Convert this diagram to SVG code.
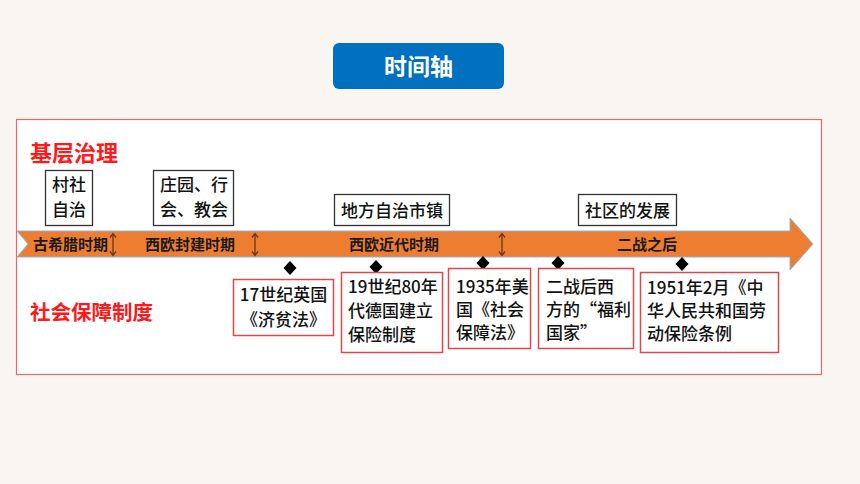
<svg xmlns="http://www.w3.org/2000/svg" width="860" height="484" viewBox="0 0 860 484">
<defs>
<style>
text{font-family:"Noto Sans CJK SC","Noto Sans",sans-serif;fill:#111}
.t{font-size:17px;font-weight:500}
.band{font-size:15px;font-weight:bold;fill:#1a1a1a}
.red{font-size:21px;font-weight:bold;fill:#FF1A1A}
.top{fill:#fff;stroke:#333;stroke-width:1.3}
.bot{fill:#fff;stroke:#E0474C;stroke-width:1.5}
.sep{stroke:#6B3A14;stroke-width:1.3;fill:none}
.dia{fill:#000}
</style>
</defs>
<rect x="0" y="0" width="860" height="484" fill="#F9F6F2"/>
<g id="title">
<rect x="333" y="43" width="171" height="46" rx="6" fill="#0070C0"/>
<text x="418.5" y="75" text-anchor="middle" style="font-size:23px;font-weight:bold;fill:#fff">时间轴</text>
</g>
<rect id="frame" x="16.5" y="119.5" width="805" height="255" fill="#fff" stroke="#F06464" stroke-width="1.2"/>
<text x="30" y="161" class="red" style="font-size:22px">基层治理</text>
<text x="30" y="320" class="red" style="font-size:20.5px">社会保障制度</text>
<g id="connectors">
<path id="timeline" d="M17,231 L790,231 L790,218 L813,244 L790,270 L790,257 L17,257 L28,244 Z" fill="#ED7D31" stroke="#8FB4DA" stroke-width="1"/>
<path class="sep" d="M113,233.5 V255.5 M110,237.5 L113,233.5 L116,237.5 M110,251.5 L113,255.5 L116,251.5"/>
<path class="sep" d="M255,233.5 V255.5 M252,237.5 L255,233.5 L258,237.5 M252,251.5 L255,255.5 L258,251.5"/>
<path class="sep" d="M502,233.5 V255.5 M499,237.5 L502,233.5 L505,237.5 M499,251.5 L502,255.5 L505,251.5"/>
<path class="dia" d="M290,261 L296.5,268 L290,275 L283.5,268 Z"/>
<path class="dia" d="M376,260 L382.5,267 L376,274 L369.5,267 Z"/>
<path class="dia" d="M483,256 L489.5,263 L483,270 L476.5,263 Z"/>
<path class="dia" d="M558,256 L564.5,263 L558,270 L551.5,263 Z"/>
<path class="dia" d="M682,257 L688.5,264 L682,271 L675.5,264 Z"/>
</g>
<g id="period-labels">
<text class="band" x="33" y="249.5">古希腊时期</text>
<text class="band" x="145" y="249.5">西欧封建时期</text>
<text class="band" x="349" y="249.5">西欧近代时期</text>
<text class="band" x="617" y="249.5">二战之后</text>
</g>
<g id="n-cunshe">
<rect class="top" x="45.5" y="170.5" width="47" height="55"/>
<text class="t" x="69" y="191" text-anchor="middle">村社</text>
<text class="t" x="69" y="216" text-anchor="middle">自治</text>
</g>
<g id="n-zhuangyuan">
<rect class="top" x="153.5" y="170.5" width="80" height="55"/>
<text class="t" x="194" y="191" text-anchor="middle">庄园、行</text>
<text class="t" x="194" y="216" text-anchor="middle">会、教会</text>
</g>
<g id="n-difang">
<rect class="top" x="334.5" y="194.5" width="115" height="31"/>
<text class="t" x="392" y="216.5" text-anchor="middle">地方自治市镇</text>
</g>
<g id="n-shequ">
<rect class="top" x="578.5" y="194.5" width="98" height="31"/>
<text class="t" x="627.5" y="216.5" text-anchor="middle">社区的发展</text>
</g>
<g id="n-1600">
<rect class="bot" x="233.5" y="279.5" width="100" height="56"/>
<text class="t" x="283.5" y="301" text-anchor="middle">17世纪英国</text>
<text class="t" x="283.5" y="326" text-anchor="middle">《济贫法》</text>
</g>
<g id="n-1880">
<rect class="bot" x="341.5" y="272.5" width="101" height="80"/>
<text class="t" x="348" y="293">19世纪80年</text>
<text class="t" x="348" y="317">代德国建立</text>
<text class="t" x="348" y="341">保险制度</text>
</g>
<g id="n-1935">
<rect class="bot" x="448.5" y="268.5" width="82" height="80"/>
<text class="t" x="456" y="293">1935年美</text>
<text class="t" x="456" y="316">国《社会</text>
<text class="t" x="456" y="339">保障法》</text>
</g>
<g id="n-welfare">
<rect class="bot" x="538.5" y="268.5" width="95" height="80"/>
<text class="t" x="546" y="293">二战后西</text>
<text class="t" x="546" y="316">方的“福利</text>
<text class="t" x="546" y="339">国家”</text>
</g>
<g id="n-1951">
<rect class="bot" x="640.5" y="272.5" width="138" height="80"/>
<text class="t" x="647" y="294">1951年2月《中</text>
<text class="t" x="647" y="317">华人民共和国劳</text>
<text class="t" x="647" y="340">动保险条例</text>
</g>
</svg>
